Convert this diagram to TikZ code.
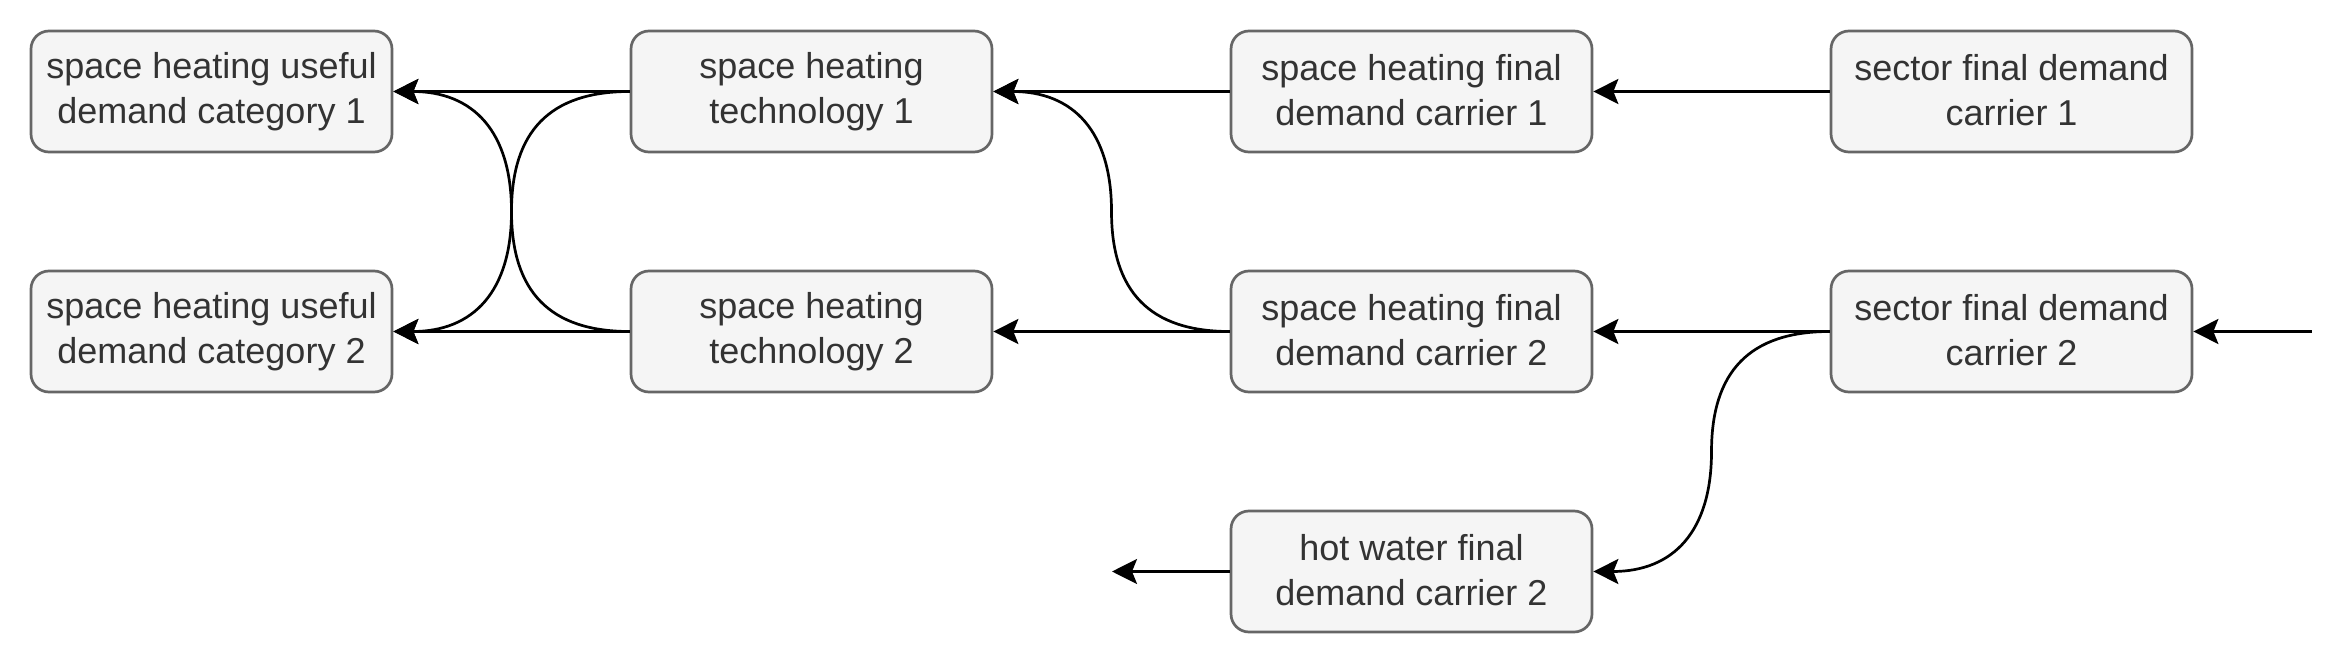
\documentclass[tikz,border=0pt]{standalone}
\usepackage{fontspec}
\setmainfont{Liberation Sans}
\usetikzlibrary{arrows.meta}
\definecolor{boxfill}{HTML}{F5F5F5}
\definecolor{boxdraw}{HTML}{666666}
\definecolor{boxtext}{HTML}{333333}
\tikzset{
  boxnode/.style={draw=boxdraw, fill=boxfill, text=boxtext, line width=1.35pt,
    rounded corners=9pt, minimum width=180.5pt, minimum height=60.5pt,
    inner sep=0pt, align=center,
    font=\fontsize{18pt}{22.2pt}\selectfont,
    execute at begin node={\rule{0pt}{16pt}},
    execute at end node={\rule[-1.5pt]{0pt}{1.5pt}}},
  flow/.style={draw=black, line width=1.35pt,
    -{Stealth[length=12.5pt,width=12.5pt,inset=2.5pt]}}
}
\begin{document}
\begin{tikzpicture}[x=0.5pt,y=-0.5pt]
\useasboundingbox (0,0) rectangle (2343,663);
\node[boxnode] (u1) at (211.5,91.5) {space heating useful\\demand category 1};
\node[boxnode] (u2) at (211.5,331.5) {space heating useful\\demand category 2};
\node[boxnode] (t1) at (811.5,91.5) {space heating\\technology 1};
\node[boxnode] (t2) at (811.5,331.5) {space heating\\technology 2};
\node[boxnode] (f1) at (1411.5,91.5) {space heating final\\demand carrier 1};
\node[boxnode] (f2) at (1411.5,331.5) {space heating final\\demand carrier 2};
\node[boxnode] (h3) at (1411.5,571.5) {hot water final\\demand carrier 2};
\node[boxnode] (s1) at (2011.5,91.5) {sector final demand\\carrier 1};
\node[boxnode] (s2) at (2011.5,331.5) {sector final demand\\carrier 2};
\coordinate (m1) at (511.5,211.5);
\coordinate (m2) at (1111.5,211.5);
\coordinate (m3) at (1711.5,451.5);
\coordinate (in2) at (2311.5,331.5);
\coordinate (out3) at (1112,571.5);
% straight flows
\draw[flow] (t1.west) -- (u1.east);
\draw[flow] (t2.west) -- (u2.east);
\draw[flow] (f1.west) -- (t1.east);
\draw[flow] (f2.west) -- (t2.east);
\draw[flow] (s1.west) -- (f1.east);
\draw[flow] (s2.west) -- (f2.east);
\draw[flow] (in2) -- (s2.east);
\draw[flow] (h3.west) -- (out3);
% curved flows
\draw[flow] (t1.west) .. controls +(-80,0) and +(0,-80) .. (m1)
  .. controls +(0,80) and +(80,0) .. (u2.east);
\draw[flow] (t2.west) .. controls +(-80,0) and +(0,80) .. (m1)
  .. controls +(0,-80) and +(80,0) .. (u1.east);
\draw[flow] (f2.west) .. controls +(-80,0) and +(0,80) .. (m2)
  .. controls +(0,-80) and +(80,0) .. (t1.east);
\draw[flow] (s2.west) .. controls +(-80,0) and +(0,-80) .. (m3)
  .. controls +(0,80) and +(80,0) .. (h3.east);
\end{tikzpicture}
\end{document}
